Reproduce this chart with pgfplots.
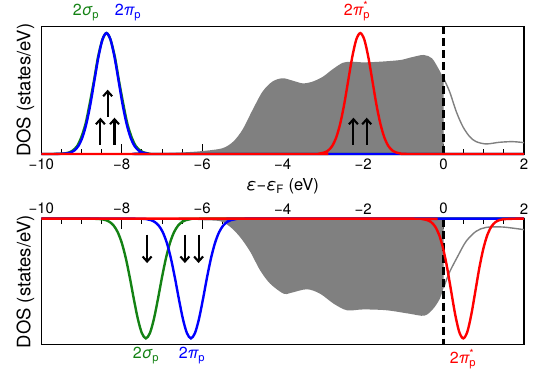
\documentclass[border=0pt]{standalone}
\usepackage{pgfplots}
\pgfplotsset{compat=1.18}
\usetikzlibrary{arrows.meta}
\usepackage{fontspec}
\setmainfont{TeX Gyre Heros}
\definecolor{dgreen}{RGB}{20,130,20}
\definecolor{dosgray}{RGB}{128,128,128}

\pgfplotsset{
  dosaxis/.style={
    scale only axis, width=482.7pt, xmin=-10, xmax=2,
    xtick={-10,-8,-6,-4,-2,0,2},
    xticklabels={−10,−8,−6,−4,−2,0,2},
    minor x tick num=3, ytick=\empty,
    major tick length=10pt, minor tick length=5pt,
    tick style={line width=0.9pt, black},
    axis line style={line width=1.3pt},
    tick align=inside, clip=false,
    tick label style={font=\fontsize{15}{18}\selectfont},
    ylabel={DOS (states/eV)},
    ylabel style={font=\fontsize{18.5}{22}\selectfont, at={(axis description cs:-0.033,0.5)}, anchor=center},
  },
  orb/.style={line width=2.4pt, smooth},
  spin/.style={line width=2.1pt, -{Straight Barb[length=5pt,width=9pt]}},
  fermi/.style={black, line width=2.2pt, dash pattern=on 8pt off 4pt},
}
\tikzset{lab/.style={anchor=base, inner sep=0pt, font=\fontsize{16}{19}\selectfont}}

\begin{document}
\begin{tikzpicture}
\useasboundingbox (0,0) rectangle (552pt,374pt);

% spin up
\begin{axis}[dosaxis, at={(41.3pt,220pt)}, anchor=south west, height=127.3pt,
  ymin=0, ymax=1, xtick pos=bottom,
  xlabel={{\itshape ε}−{\itshape ε}\textsubscript{F} (eV)},
  xlabel style={font=\fontsize{16.5}{19}\selectfont, at={(axis description cs:0.5,-0.257)}, anchor=center},
  xticklabel style={yshift=-1pt}]
\addplot[fill=dosgray, draw=none, smooth] coordinates {
  (-10,0) (-7.5,0.002) (-7,0.006) (-6.5,0.012) (-6,0.023) (-5.5,0.045) (-5.23,0.097)
  (-5,0.19) (-4.75,0.345) (-4.5,0.49) (-4.25,0.57) (-4,0.595) (-3.75,0.576) (-3.5,0.555)
  (-3.26,0.568) (-3,0.607) (-2.76,0.665) (-2.5,0.717) (-2.27,0.725) (-2,0.72) (-1.58,0.725)
  (-1.08,0.738) (-0.83,0.757) (-0.5,0.778) (-0.29,0.752) (-0.13,0.673) (0,0.595)} \closedcycle;
\addplot[dosgray, line width=1.4pt, smooth] coordinates {
  (0,0.595) (0.15,0.49) (0.32,0.33) (0.48,0.215) (0.65,0.136) (0.81,0.097) (1.06,0.079)
  (1.39,0.092) (1.72,0.097) (2,0.089)};
\addplot[fermi] coordinates {(0,0) (0,1)};
\addplot[orb, dgreen] coordinates {
  (-10,0) (-9.73,0) (-9.42,0.004) (-9.32,0.011) (-9.22,0.027) (-9.11,0.062) (-9.01,0.128)
  (-8.90,0.237) (-8.80,0.390) (-8.69,0.577) (-8.59,0.761) (-8.48,0.899) (-8.38,0.95)
  (-8.28,0.899) (-8.17,0.761) (-8.07,0.577) (-7.96,0.390) (-7.86,0.237) (-7.75,0.128)
  (-7.65,0.062) (-7.54,0.027) (-7.44,0.011) (-7.34,0.004) (-7.03,0) (2,0)};
\addplot[orb, blue] coordinates {
  (-10,0) (-9.68,0) (-9.38,0.004) (-9.28,0.011) (-9.18,0.027) (-9.08,0.062) (-8.98,0.128)
  (-8.88,0.237) (-8.78,0.390) (-8.68,0.577) (-8.58,0.761) (-8.48,0.899) (-8.38,0.95)
  (-8.28,0.899) (-8.18,0.761) (-8.08,0.577) (-7.98,0.390) (-7.88,0.237) (-7.78,0.128)
  (-7.68,0.062) (-7.58,0.027) (-7.48,0.011) (-7.38,0.004) (-7.08,0) (2,0)};
\addplot[orb, red] coordinates {
  (-10,0) (-3.37,0) (-3.07,0.004) (-2.97,0.011) (-2.87,0.027) (-2.77,0.062) (-2.67,0.128)
  (-2.57,0.237) (-2.47,0.390) (-2.37,0.577) (-2.27,0.761) (-2.17,0.899) (-2.07,0.95)
  (-1.97,0.899) (-1.87,0.761) (-1.77,0.577) (-1.67,0.390) (-1.57,0.237) (-1.47,0.128)
  (-1.37,0.062) (-1.27,0.027) (-1.17,0.011) (-1.07,0.004) (-0.77,0) (2,0)};
\addplot[spin] coordinates {(-8.53,0.071) (-8.53,0.285)};
\addplot[spin] coordinates {(-8.18,0.071) (-8.18,0.285)};
\addplot[spin] coordinates {(-8.35,0.293) (-8.35,0.505)};
\addplot[spin] coordinates {(-2.24,0.071) (-2.24,0.285)};
\addplot[spin] coordinates {(-1.91,0.071) (-1.91,0.285)};
\end{axis}

% spin down
\begin{axis}[dosaxis, at={(41.3pt,29.3pt)}, anchor=south west, height=126pt,
  ymin=-1, ymax=0, xtick pos=top, xticklabel pos=upper,
  xticklabel style={yshift=1pt}]
\addplot[fill=dosgray, draw=none, smooth] coordinates {
  (-10,0) (-7,0) (-6.5,-0.005) (-6,-0.012) (-5.55,-0.02) (-5.3,-0.066) (-5.06,-0.145)
  (-4.81,-0.26) (-4.56,-0.41) (-4.31,-0.516) (-3.98,-0.595) (-3.81,-0.59) (-3.4,-0.56)
  (-3.07,-0.595) (-2.73,-0.675) (-2.4,-0.727) (-1.99,-0.72) (-1.41,-0.727) (-0.85,-0.754)
  (-0.48,-0.77) (-0.27,-0.72) (-0.1,-0.64) (0,-0.55)} \closedcycle;
\addplot[dosgray, line width=1.4pt, smooth] coordinates {
  (0,-0.55) (0.14,-0.43) (0.35,-0.30) (0.56,-0.18) (0.81,-0.10) (1.06,-0.069)
  (1.47,-0.066) (2,-0.087)};
\addplot[fermi] coordinates {(0,0) (0,-1)};
\addplot[orb, dgreen] coordinates {
  (-10,0) (-8.8,0) (-8.5,-0.004) (-8.4,-0.011) (-8.3,-0.026) (-8.2,-0.055) (-8.1,-0.107)
  (-8.0,-0.191) (-7.9,-0.312) (-7.8,-0.466) (-7.7,-0.637) (-7.6,-0.795) (-7.5,-0.908)
  (-7.4,-0.95) (-7.3,-0.908) (-7.2,-0.795) (-7.1,-0.637) (-7.0,-0.466) (-6.9,-0.312)
  (-6.8,-0.191) (-6.7,-0.107) (-6.6,-0.055) (-6.5,-0.026) (-6.4,-0.011) (-6.3,-0.004)
  (-6.0,0) (2,0)};
\addplot[orb, blue] coordinates {
  (-10,0) (-7.68,0) (-7.38,-0.004) (-7.28,-0.011) (-7.18,-0.026) (-7.08,-0.055) (-6.98,-0.107)
  (-6.88,-0.191) (-6.78,-0.312) (-6.68,-0.466) (-6.58,-0.637) (-6.48,-0.795) (-6.38,-0.908)
  (-6.28,-0.95) (-6.18,-0.908) (-6.08,-0.795) (-5.98,-0.637) (-5.88,-0.466) (-5.78,-0.312)
  (-5.68,-0.191) (-5.58,-0.107) (-5.48,-0.055) (-5.38,-0.026) (-5.28,-0.011) (-5.18,-0.004)
  (-4.88,0) (2,0)};
\addplot[orb, red] coordinates {
  (-10,0) (-0.81,0) (-0.51,-0.004) (-0.41,-0.011) (-0.31,-0.027) (-0.21,-0.062) (-0.11,-0.128)
  (-0.01,-0.237) (0.09,-0.390) (0.19,-0.577) (0.29,-0.761) (0.39,-0.899) (0.49,-0.95)
  (0.59,-0.899) (0.69,-0.761) (0.79,-0.577) (0.89,-0.390) (0.99,-0.237) (1.09,-0.128)
  (1.19,-0.062) (1.29,-0.027) (1.39,-0.011) (1.49,-0.004) (1.79,0) (2,0)};
\addplot[spin] coordinates {(-7.37,-0.127) (-7.37,-0.352)};
\addplot[spin] coordinates {(-6.43,-0.127) (-6.43,-0.352)};
\addplot[spin] coordinates {(-6.09,-0.127) (-6.09,-0.352)};
\end{axis}

% orbital labels
\node[dgreen, lab] at (86pt,358pt) {2{\itshape σ}\textsubscript{p}};
\node[blue, lab] at (128pt,358pt) {2{\itshape π}\textsubscript{p}};
\node[red, lab] at (357pt,358pt) {2{\itshape π}\rlap{\textsuperscript{*}}\textsubscript{p}};
\node[dgreen, lab] at (146pt,15pt) {2{\itshape σ}\textsubscript{p}};
\node[blue, lab] at (192pt,15pt) {2{\itshape π}\textsubscript{p}};
\node[red, lab] at (463pt,10pt) {2{\itshape π}\rlap{\textsuperscript{*}}\textsubscript{p}};
\end{tikzpicture}
\end{document}
